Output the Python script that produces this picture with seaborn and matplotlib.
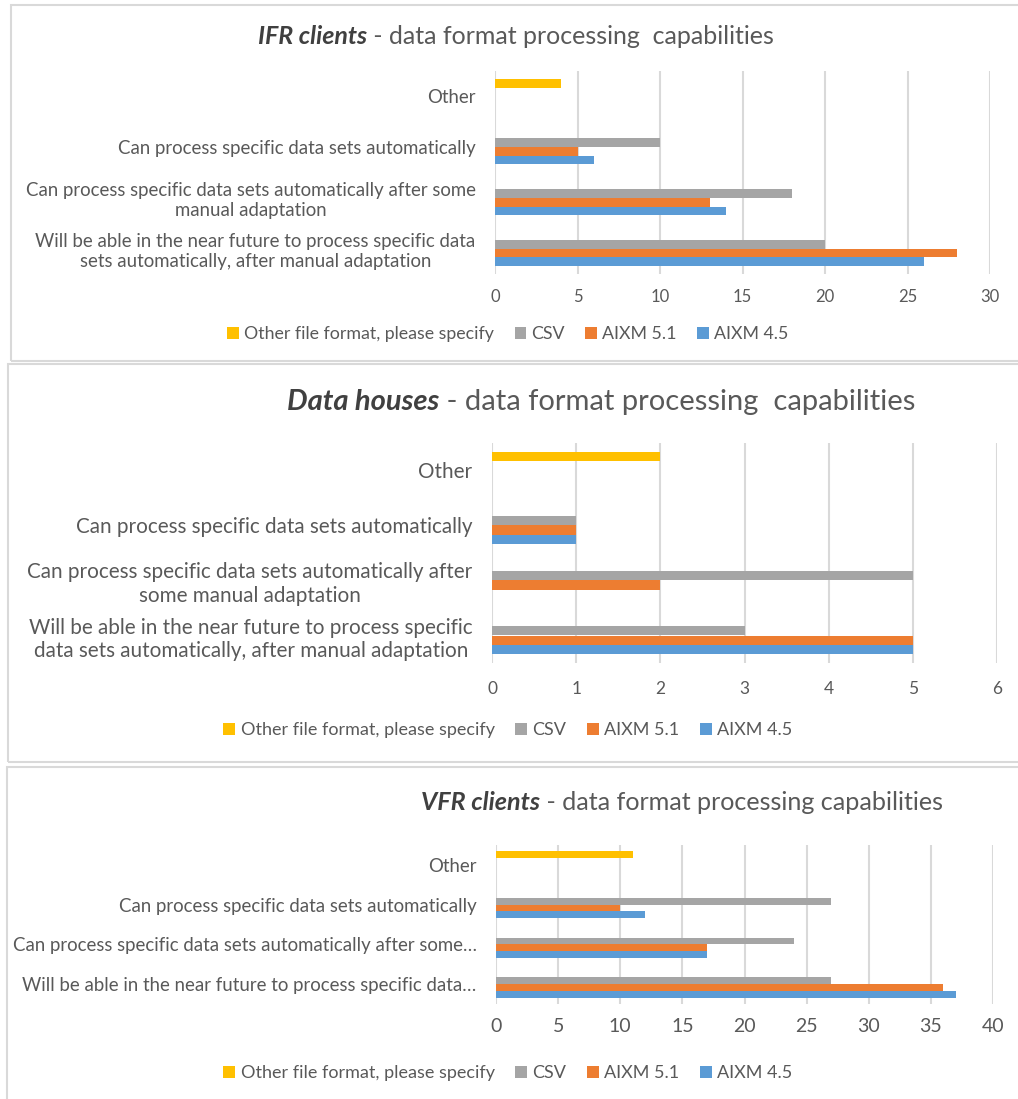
import matplotlib
matplotlib.use("Agg")
import matplotlib.pyplot as plt
import seaborn as sns
import pandas as pd
from matplotlib.patches import Rectangle, Patch

# categories, top to bottom
categories = ["Other", "Automatic", "After manual adaptation", "Near future"]
series = ["Other file format, please specify", "CSV", "AIXM 5.1", "AIXM 4.5"]
colors = ["#FFC000", "#A5A5A5", "#ED7D31", "#5B9BD5"]

# IFR clients
ifr_other = [4, 0, 0, 0]
ifr_csv = [0, 10, 18, 20]
ifr_aixm51 = [0, 5, 13, 28]
ifr_aixm45 = [0, 6, 14, 26]

# Data houses
dh_other = [2, 0, 0, 0]
dh_csv = [0, 1, 5, 3]
dh_aixm51 = [0, 1, 2, 5]
dh_aixm45 = [0, 1, 0, 5]

# VFR clients
vfr_other = [11, 0, 0, 0]
vfr_csv = [0, 27, 24, 27]
vfr_aixm51 = [0, 10, 17, 36]
vfr_aixm45 = [0, 12, 17, 37]

ifr_labels = ["Other", "Can process specific data sets automatically",
              "Can process specific data sets automatically after some\nmanual adaptation",
              "Will be able in the near future to process specific data\nsets automatically, after manual adaptation"]
dh_labels = ["Other", "Can process specific data sets automatically",
             "Can process specific data sets automatically after\nsome manual adaptation",
             "Will be able in the near future to process specific\ndata sets automatically, after manual adaptation"]
vfr_labels = ["Other", "Can process specific data sets automatically",
              "Can process specific data sets automatically after some\u2026",
              "Will be able in the near future to process specific data\u2026"]

W, H = 1018, 1099
TXT = "#595959"
GRID = "#D9D9D9"

sns.set_theme(style="white")
plt.rcParams["font.family"] = ["Lato", "DejaVu Sans"]


def make_df(cols):
    rows = []
    for s, vals in zip(series, cols):
        for c, v in zip(categories, vals):
            rows.append({"category": c, "series": s, "value": v})
    return pd.DataFrame(rows)


def rect(l, r, t, b):
    return [l / W, 1 - b / H, (r - l) / W, (b - t) / H]


def panel(fig, box, pos, df, labels, xmax, step, ylab_fs, xtick_fs, xpad,
          title_bold, title_rest, title_x, title_y, title_fs, leg_y, leg_fs):
    # panel border
    l, r, t, b = box
    fig.patches.append(Rectangle((l / W, 1 - b / H), (r - l) / W, (b - t) / H,
                                 transform=fig.transFigure, fill=False,
                                 edgecolor=GRID, linewidth=1.5))
    ax = fig.add_axes(rect(*pos))
    sns.barplot(data=df, y="category", x="value", hue="series", hue_order=series,
                order=categories, palette=colors, saturation=1, orient="h",
                width=0.68, linewidth=0, legend=False, ax=ax, zorder=3)
    ax.set_xlim(0, xmax)
    ax.set_xticks(range(0, xmax + 1, step))
    ax.set_yticklabels(labels)
    for tl in ax.get_yticklabels():
        tl.set_multialignment("center")
    ax.tick_params(axis="y", labelsize=ylab_fs, labelcolor=TXT, length=0, pad=14)
    ax.tick_params(axis="x", labelsize=xtick_fs, labelcolor=TXT, length=0, pad=xpad)
    ax.grid(axis="x", color=GRID, linewidth=1.5, zorder=0)
    ax.set_axisbelow(True)
    for s in ax.spines.values():
        s.set_visible(False)
    ax.set_xlabel("")
    ax.set_ylabel("")

    t1 = fig.text(title_x / W, 1 - title_y / H, title_bold, fontsize=title_fs,
                  fontweight="bold", fontstyle="italic", color="#404040",
                  ha="left", va="center")
    fig.texts.append(plt.Annotation(title_rest, xy=(1, 0), xycoords=t1,
                                    fontsize=title_fs, color=TXT, va="bottom"))
    fig.texts[-1].set_figure(fig)

    handles = [Patch(facecolor=c, edgecolor="none") for c in colors]
    fig.legend(handles, series, loc="center", bbox_to_anchor=(508 / W, 1 - leg_y / H),
               ncol=4, frameon=False, fontsize=leg_fs, labelcolor=TXT,
               handlelength=0.65, handleheight=0.65, handletextpad=0.3,
               columnspacing=1.15)
    return ax


fig = plt.figure(figsize=(W / 100, H / 100), dpi=100)

panel(fig, (11, 1030, 5, 361), (495, 990, 71, 274),
      make_df([ifr_other, ifr_csv, ifr_aixm51, ifr_aixm45]), ifr_labels,
      30, 5, 13.4, 12, 11, "IFR clients", " - data format processing  capabilities",
      258, 36, 18, 334, 12.8)

panel(fig, (8, 1030, 364, 762), (492, 997, 443, 663),
      make_df([dh_other, dh_csv, dh_aixm51, dh_aixm45]), dh_labels,
      6, 1, 14.9, 12.5, 13, "Data houses", " - data format processing  capabilities",
      287, 402, 21, 730, 13)

panel(fig, (7, 1030, 767, 1110), (496, 993, 845, 1004),
      make_df([vfr_other, vfr_csv, vfr_aixm51, vfr_aixm45]), vfr_labels,
      40, 5, 13.4, 14, 10, "VFR clients", " - data format processing capabilities",
      421, 802, 18.1, 1073, 13)

fig.savefig("out.png", dpi=100, facecolor="white")
